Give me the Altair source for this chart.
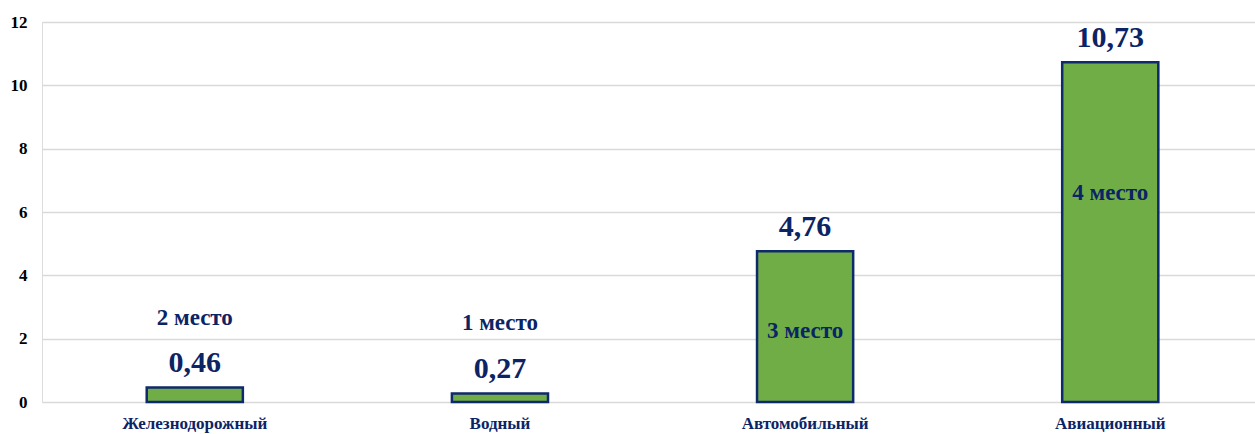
import altair as alt
import pandas as pd

categories = ["Железнодорожный", "Водный", "Автомобильный", "Авиационный"]
values = [0.46, 0.27, 4.76, 10.73]
value_labels = ["0,46", "0,27", "4,76", "10,73"]
place_labels = ["2 место", "1 место", "3 место", "4 место"]
place_label_y = [2.65, 2.49, 2.24, 6.6]
y_ticks = [0, 2, 4, 6, 8, 10, 12]

df = pd.DataFrame({
    "cat": categories,
    "val": values,
    "vlab": value_labels,
    "plab": place_labels,
    "py": place_label_y,
})

NAVY = "#0B2465"
FONT = "Liberation Serif"

x_enc = alt.X(
    "cat:N",
    sort=categories,
    scale=alt.Scale(paddingInner=0.685, paddingOuter=0.33, align=0.52),
    axis=alt.Axis(
        title=None,
        labelAngle=0,
        labelFont=FONT,
        labelFontWeight="bold",
        labelFontSize=17,
        labelColor=NAVY,
        labelPadding=13,
        ticks=False,
        domain=False,
    ),
)

y_scale = alt.Scale(domain=[0, 12], nice=False)

bars = alt.Chart(df).mark_bar(
    color="#70AD47", stroke="#0E2A6B", strokeWidth=2.5
).encode(
    x=x_enc,
    y=alt.Y(
        "val:Q",
        scale=y_scale,
        axis=alt.Axis(
            title=None,
            values=y_ticks,
            labelFont=FONT,
            labelFontWeight="bold",
            labelFontSize=17,
            labelColor="#000000",
            labelPadding=15,
            ticks=False,
            domain=False,
            grid=True,
            gridColor="#D9D9D9",
            gridWidth=1.5,
        ),
    ),
)

vtext = alt.Chart(df).mark_text(
    font=FONT, fontWeight="bold", fontSize=30, color=NAVY, dy=-24, baseline="middle"
).encode(
    x=alt.X("cat:N", sort=categories),
    y=alt.Y("val:Q", scale=y_scale),
    text="vlab:N",
)

ptext = alt.Chart(df).mark_text(
    font=FONT, fontWeight="bold", fontSize=23, color=NAVY, baseline="middle"
).encode(
    x=alt.X("cat:N", sort=categories),
    y=alt.Y("py:Q", scale=y_scale),
    text="plab:N",
)

chart = alt.layer(bars, vtext, ptext).properties(
    width=1213,
    height=380,
    autosize=alt.AutoSizeParams(type="none"),
    padding={"left": 42, "top": 22, "right": 0, "bottom": 32},
).configure_view(stroke=None).configure(background="white")

chart.save("out.html", embed_options={"renderer": "svg", "actions": False})
